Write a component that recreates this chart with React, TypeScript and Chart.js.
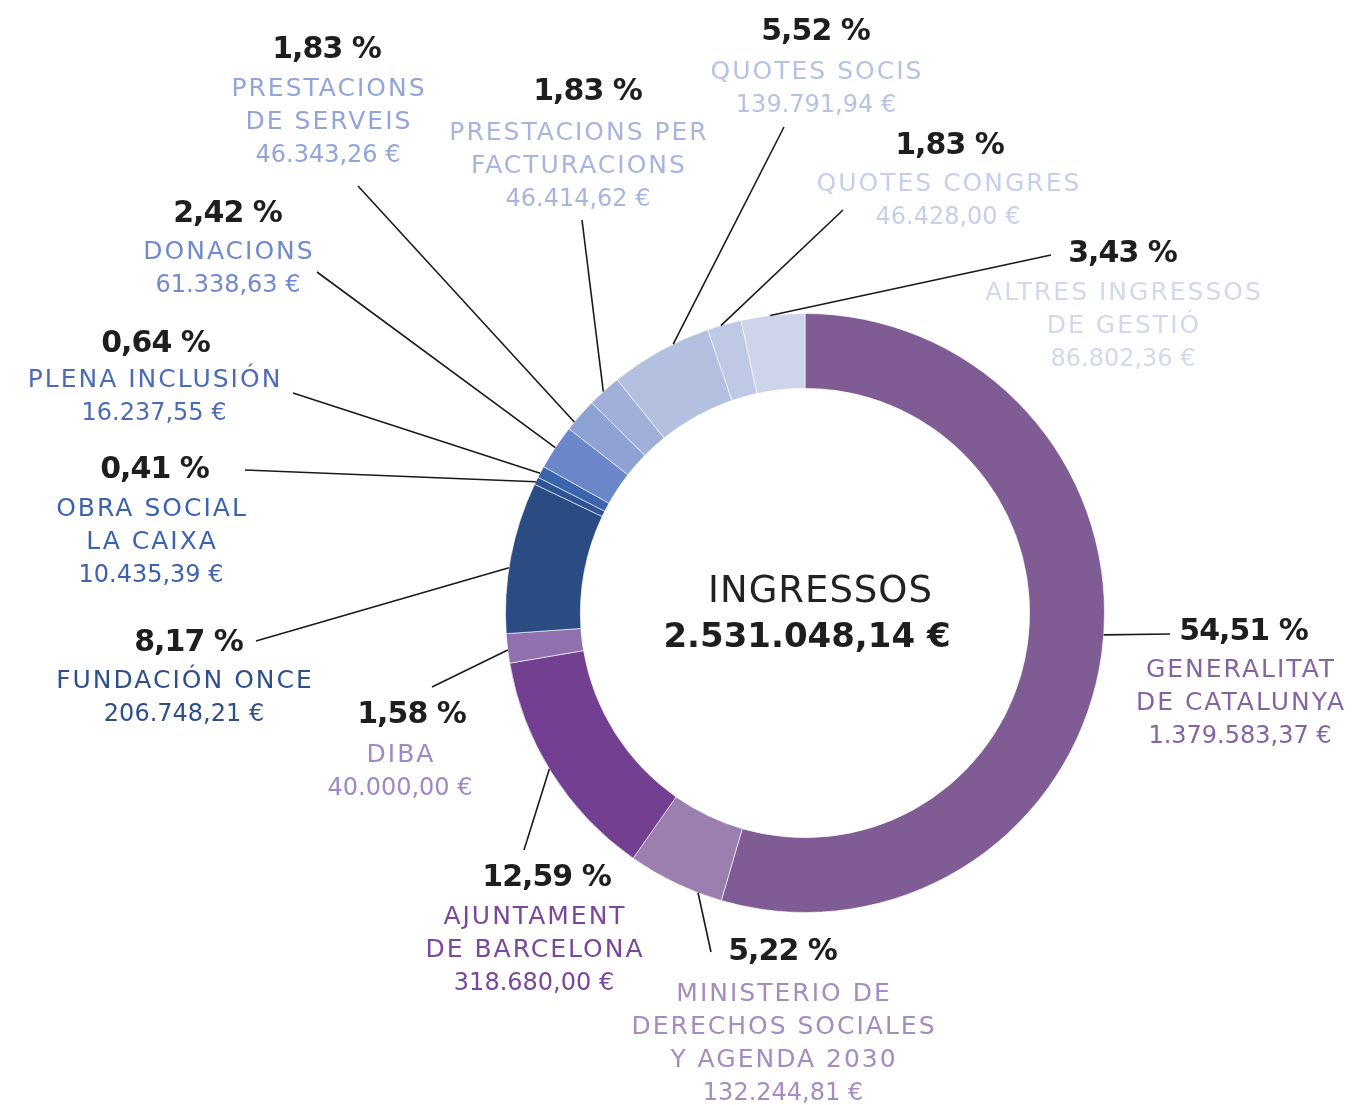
import React, { useEffect, useRef } from "react";
import { Chart, registerables } from "chart.js";

Chart.register(...registerables);

// ---------- DATA ----------
const categories: string[][] = [
  ["GENERALITAT", "DE CATALUNYA"],
  ["MINISTERIO DE", "DERECHOS SOCIALES", "Y AGENDA 2030"],
  ["AJUNTAMENT", "DE BARCELONA"],
  ["DIBA"],
  ["FUNDACIÓN ONCE"],
  ["OBRA SOCIAL", "LA CAIXA"],
  ["PLENA INCLUSIÓN"],
  ["DONACIONS"],
  ["PRESTACIONS", "DE SERVEIS"],
  ["PRESTACIONS PER", "FACTURACIONS"],
  ["QUOTES SOCIS"],
  ["QUOTES CONGRES"],
  ["ALTRES INGRESSOS", "DE GESTIÓ"],
];
const values: number[] = [
  1379583.37, 132244.81, 318680.0, 40000.0, 206748.21, 10435.39, 16237.55,
  61338.63, 46343.26, 46414.62, 139791.94, 46428.0, 86802.36,
];
const percentLabels: string[] = [
  "54,51 %", "5,22 %", "12,59 %", "1,58 %", "8,17 %", "0,41 %", "0,64 %",
  "2,42 %", "1,83 %", "1,83 %", "5,52 %", "1,83 %", "3,43 %",
];
const centerTitle = "INGRESSOS";
const centerTotal = "2.531.048,14 €";

// ---------- STYLES ----------
const sliceColors = [
  "#805c95", "#9b7fae", "#733f90", "#9170ae", "#2b4c83", "#2f5394", "#3a64ae",
  "#6b87c9", "#8fa2d4", "#a2b0d9", "#b3c0df", "#bfc9e5", "#ced4ea",
];
const textColors = [
  "#8563a0", "#a68bc0", "#7a479c", "#a088c4", "#2f4f88", "#3c63ab", "#4a6cb5",
  "#6f8bcc", "#91a5d8", "#a5b5de", "#b5c2e4", "#c6cfea", "#d0d8ee",
];

// label layout: px/py percent centre, x/ly first name line centre, t = fraction in slice, ex/ey leader end
const layout = [
  { px: 1244, py: 629, x: 1240, ly: 668, t: 0.48, ex: 1170, ey: 634 },
  { px: 783, py: 949, x: 783, ly: 992, t: 0.25, ex: 711, ey: 952 },
  { px: 547, py: 875, x: 534, ly: 915, t: 0.52, ex: 524, ey: 850 },
  { px: 412, py: 712, x: 400, ly: 753, t: 0.45, ex: 432, ey: 687 },
  { px: 189, py: 640, x: 184, ly: 679, t: 0.43, ex: 256, ey: 641 },
  { px: 155, py: 467, x: 151, ly: 507, t: 0.37, ex: 245, ey: 470 },
  { px: 156, py: 341, x: 154, ly: 378, t: 0.38, ex: 293, ey: 393 },
  { px: 228, py: 211, x: 228, ly: 250, t: 0.49, ex: 317, ey: 272 },
  { px: 327, py: 47, x: 328, ly: 87, t: 0.25, ex: 358, ey: 186 },
  { px: 588, py: 89, x: 578, ly: 131, t: 0.47, ex: 582, ey: 220 },
  { px: 816, py: 29, x: 816, ly: 70, t: 0.64, ex: 784, ey: 127 },
  { px: 950, py: 143, x: 948, ly: 182, t: 0.4, ex: 843, ey: 210 },
  { px: 1123, py: 251, x: 1123, ly: 291, t: 0.46, ex: 1051, ey: 255 },
];

const FONT = '"DejaVu Sans", sans-serif';
const LINE_H = 33;

function formatEuro(v: number): string {
  const [intPart, dec] = v.toFixed(2).split(".");
  const grouped = intPart.replace(/\B(?=(\d{3})+(?!\d))/g, ".");
  return `${grouped},${dec} €`;
}

function drawText(
  ctx: CanvasRenderingContext2D,
  text: string,
  cx: number,
  cy: number,
  size: number,
  weight: string,
  color: string,
  spacing: number
) {
  ctx.font = `${weight} ${size}px ${FONT}`;
  (ctx as any).letterSpacing = `${spacing}px`;
  ctx.fillStyle = color;
  ctx.textBaseline = "alphabetic";
  ctx.textAlign = "left";
  const w = ctx.measureText(text).width;
  ctx.fillText(text, cx - (w - spacing) / 2, cy + 0.365 * size);
  (ctx as any).letterSpacing = "0px";
}

const labelPlugin = {
  id: "labelPlugin",
  afterDraw(chart: any) {
    const ctx: CanvasRenderingContext2D = chart.ctx;
    const meta = chart.getDatasetMeta(0);
    ctx.save();
    // leader lines
    ctx.strokeStyle = "#1a1a1a";
    ctx.lineWidth = 1.6;
    meta.data.forEach((el: any, i: number) => {
      const p = el.getProps(["x", "y", "startAngle", "endAngle", "outerRadius"], true);
      const L = layout[i];
      const a = p.startAngle + L.t * (p.endAngle - p.startAngle);
      const sx = p.x + Math.cos(a) * p.outerRadius;
      const sy = p.y + Math.sin(a) * p.outerRadius;
      ctx.beginPath();
      ctx.moveTo(sx, sy);
      ctx.lineTo(L.ex, L.ey);
      ctx.stroke();
    });
    // labels
    categories.forEach((lines, i) => {
      const L = layout[i];
      drawText(ctx, percentLabels[i], L.px, L.py, 30, "bold", "#1e1e1e", -1);
      lines.forEach((ln, j) => {
        drawText(ctx, ln, L.x, L.ly + j * LINE_H, 25, "normal", textColors[i], 2);
      });
      drawText(ctx, formatEuro(values[i]), L.x, L.ly + lines.length * LINE_H, 24, "normal", textColors[i], 0);
    });
    // centre
    const c = meta.data[0];
    const cx = c.x;
    const cy = c.y;
    drawText(ctx, centerTitle, cx + 15, cy - 25, 37, "normal", "#222222", 1);
    drawText(ctx, centerTotal, cx + 2, cy + 22, 34, "bold", "#1e1e1e", 0);
    ctx.restore();
  },
};

export default function App() {
  const ref = useRef<HTMLCanvasElement | null>(null);
  useEffect(() => {
    if (!ref.current) return;
    const chart = new Chart(ref.current, {
      type: "doughnut",
      data: {
        labels: categories.map((l) => l.join(" ")),
        datasets: [
          {
            data: values,
            backgroundColor: sliceColors,
            borderColor: "rgba(255,255,255,0.6)",
            borderWidth: 1,
          },
        ],
      },
      options: {
        responsive: false,
        animation: false,
        cutout: "75%",
        layout: { padding: { left: 505, right: 249, top: 313, bottom: 192 } },
        plugins: { legend: { display: false }, tooltip: { enabled: false } },
      },
      plugins: [labelPlugin],
    });
    return () => chart.destroy();
  }, []);
  return (
    <div style={{ position: "absolute", left: 0, top: 0, width: 1354, height: 1105, background: "#fff" }}>
      <canvas ref={ref} width={1354} height={1105} style={{ display: "block" }} />
    </div>
  );
}
